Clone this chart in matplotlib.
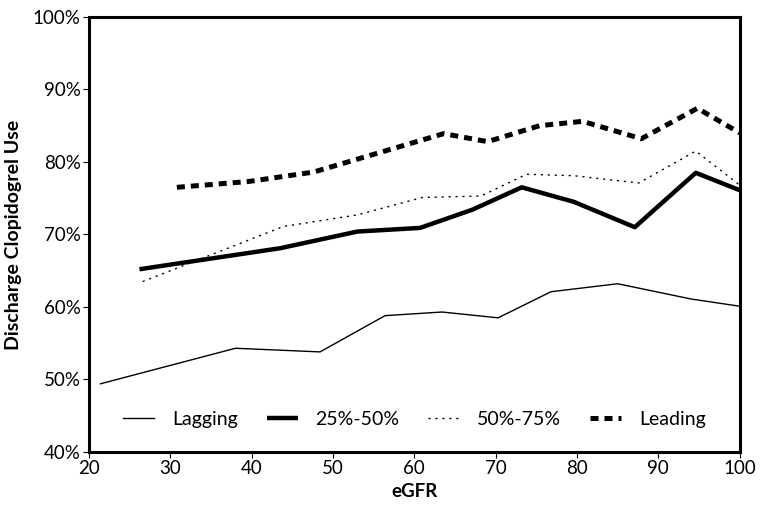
import matplotlib
matplotlib.use("Agg")
import matplotlib.pyplot as plt
from matplotlib.ticker import FuncFormatter

plt.rcParams['font.family'] = ['Lato', 'DejaVu Sans']

lag_x = [21.4, 38.0, 48.4, 56.4, 63.4, 70.3, 76.8, 85.0, 94.0, 100.0]
lag_y = [49.4, 54.3, 53.8, 58.8, 59.3, 58.5, 62.1, 63.2, 61.1, 60.1]

q2_x = [26.2, 43.5, 53.0, 60.7, 67.1, 73.2, 79.6, 87.1, 94.6, 100.0]
q2_y = [65.2, 68.1, 70.4, 70.9, 73.4, 76.5, 74.5, 71.0, 78.5, 76.1]

q3_x = [26.6, 43.9, 53.0, 61.0, 68.2, 73.8, 79.6, 87.6, 94.6, 100.0]
q3_y = [63.5, 71.1, 72.7, 75.1, 75.3, 78.3, 78.1, 77.1, 81.5, 76.8]

lead_x = [30.8, 39.6, 47.6, 63.6, 69.0, 75.4, 80.7, 87.9, 94.8, 100.0]
lead_y = [76.5, 77.3, 78.6, 83.9, 82.8, 85.0, 85.6, 83.2, 87.4, 84.0]

labels = ['Lagging', '25%-50%', '50%-75%', 'Leading']

fig = plt.figure(figsize=(7.61, 5.13), dpi=100)
ax = fig.add_axes([0.117, 0.119, 0.855, 0.848])

ax.plot(lag_x, lag_y, color='black', lw=1.0, label=labels[0])
ax.plot(q2_x, q2_y, color='black', lw=3.2, label=labels[1], solid_capstyle='butt')
ax.plot(q3_x, q3_y, color='black', lw=1.0, linestyle=(0, (1.5, 3.5)), label=labels[2])
ax.plot(lead_x, lead_y, color='black', lw=3.6, linestyle=(0, (1.6, 1.2)), label=labels[3])

ax.set_xlim(20, 100)
ax.set_ylim(40, 100)
ax.set_xticks(range(20, 101, 10))
ax.set_yticks(range(40, 101, 10))
ax.yaxis.set_major_formatter(FuncFormatter(lambda v, p: f"{int(v)}%"))
ax.tick_params(axis='both', labelsize=13.5, length=4, width=0.8, direction='out', pad=2)

for s in ax.spines.values():
    s.set_linewidth(2.2)

ax.set_xlabel('eGFR', fontsize=13.5, fontweight='bold', labelpad=4)
ax.set_ylabel('Discharge Clopidogrel Use', fontsize=14, fontweight='bold', labelpad=8)

leg = ax.legend(loc='lower center', ncol=4, frameon=False, fontsize=14,
                bbox_to_anchor=(0.5, 0.015), handlelength=1.6, columnspacing=1.5,
                handletextpad=0.9)

fig.savefig('out.png', dpi=100)
